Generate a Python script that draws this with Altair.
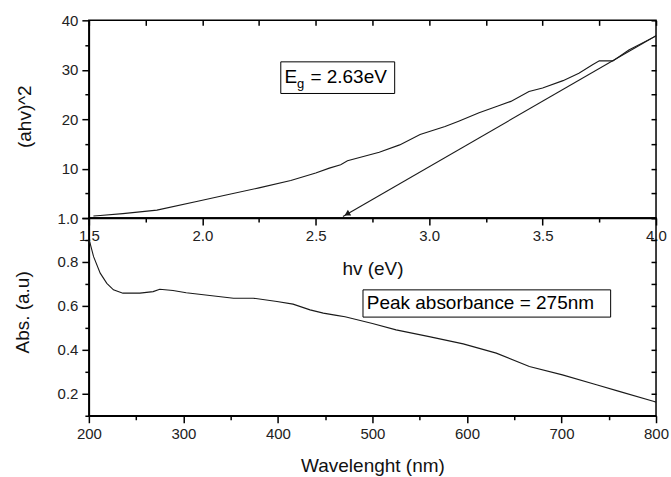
import altair as alt
import pandas as pd

# ---- data ----
hv = [1.52, 1.55, 1.65, 1.80, 1.99, 2.10, 2.25, 2.39, 2.50, 2.56, 2.61, 2.64, 2.78, 2.87,
      2.96, 3.07, 3.13, 3.22, 3.30, 3.36, 3.44, 3.50, 3.59, 3.66, 3.72, 3.75, 3.81, 3.88,
      3.99, 4.00]
ahv2 = [0.4, 0.5, 0.9, 1.6, 3.5, 4.6, 6.1, 7.6, 9.1, 10.1, 10.8, 11.6, 13.3, 14.8,
        16.9, 18.5, 19.6, 21.3, 22.6, 23.6, 25.6, 26.3, 27.8, 29.3, 31.0, 31.8, 31.8, 34.0,
        36.6, 36.9]

tangent_hv = [4.00, 2.62]
tangent_val = [36.9, 0.3]
arrow_hv = [2.638]
arrow_val = [0.8]

wavelength = [200, 201, 205, 212, 219, 226, 236, 254, 268, 275, 289, 303, 328, 353, 374,
              399, 416, 434, 448, 462, 471, 500, 525, 560, 596, 631, 666, 701, 737, 761,
              798, 800]
absorb = [0.90, 0.89, 0.824, 0.749, 0.703, 0.673, 0.658, 0.658, 0.665, 0.676, 0.670, 0.660,
          0.647, 0.635, 0.635, 0.620, 0.608, 0.582, 0.567, 0.557, 0.551, 0.520, 0.491,
          0.460, 0.427, 0.385, 0.324, 0.286, 0.241, 0.211, 0.165, 0.162]

top_x_major = [1.5, 2.0, 2.5, 3.0, 3.5, 4.0]
top_x_minor = [1.75, 2.25, 2.75, 3.25, 3.75]
top_x_all = [1.5, 1.75, 2.0, 2.25, 2.5, 2.75, 3.0, 3.25, 3.5, 3.75, 4.0]
top_y_major = [0, 10, 20, 30, 40]
top_y_minor = [5, 15, 25, 35]
top_y_all = [0, 5, 10, 15, 20, 25, 30, 35, 40]

bot_x_major = [200, 300, 400, 500, 600, 700, 800]
bot_x_minor = [250, 350, 450, 550, 650, 750]
bot_y_major = [0.2, 0.4, 0.6, 0.8, 1.0]
bot_y_minor = [0.1, 0.3, 0.5, 0.7, 0.9]
bot_y_all = [0.1, 0.2, 0.3, 0.4, 0.5, 0.6, 0.7, 0.8, 0.9, 1.0]

eg_box = {"x": [2.346], "x2": [2.848], "y": [31.6], "y2": [25.2]}
eg_text = {"x": [2.362], "y": [28.5]}
peak_box = {"x": [490], "x2": [752], "y": [0.673], "y2": [0.549]}
peak_text = {"x": [494], "y": [0.611], "label": ["Peak absorbance = 275nm"]}

FONT = "Liberation Sans"
W, H = 568, 198
LINE = "#1a1a1a"
LBL = dict(labelColor="#222222", labelFont=FONT, labelFontSize=15, grid=False,
           labelFlush=False, labelOverlap=False,
           domainColor="black", domainWidth=1.5, tickColor="black", tickWidth=1.5)
TTL = dict(titleFont=FONT, titleFontSize=19, titleFontWeight="normal", titleColor="#111111")

top_df = pd.DataFrame({"hv": hv, "v": ahv2})
tan_df = pd.DataFrame({"hv": tangent_hv, "v": tangent_val})
arr_df = pd.DataFrame({"hv": arrow_hv, "v": arrow_val})
bot_df = pd.DataFrame({"wl": wavelength, "a": absorb})

xs_top = alt.Scale(domain=[1.5, 4.0], nice=False, zero=False)
ys_top = alt.Scale(domain=[0, 40], nice=False, zero=False)
xs_bot = alt.Scale(domain=[200, 800], nice=False, zero=False)
ys_bot = alt.Scale(domain=[0.1, 1.0], nice=False, zero=False)

TICK_MAJ = 7
TICK_MIN = 4
TICK_IN = 5


def hidden_axis(orient, values, size, offset=0):
    return alt.Axis(orient=orient, values=values, tickSize=size, labels=False,
                    domain=False, title=None, grid=False, offset=offset,
                    tickColor="black", tickWidth=1.5)


def carrier(df, xf, yf, xs, ys, xaxis, yaxis):
    return alt.Chart(df).mark_line(opacity=0).encode(
        x=alt.X(xf, type="quantitative", scale=xs, axis=xaxis),
        y=alt.Y(yf, type="quantitative", scale=ys, axis=yaxis),
    )


# ---------------- top panel ----------------
top_main = alt.Chart(top_df).mark_line(color=LINE, strokeWidth=1.1).encode(
    x=alt.X("hv:Q", scale=xs_top, axis=alt.Axis(
        orient="bottom", values=top_x_major, format=".1f", tickSize=TICK_MAJ,
        labelPadding=4, title="hv (eV)", titleY=51, titleBaseline="middle",
        titleAlign="center", **LBL, **TTL)),
    y=alt.Y("v:Q", scale=ys_top, axis=alt.Axis(
        orient="left", values=top_y_major, format="d", tickSize=TICK_MAJ,
        labelPadding=4, labelExpr="datum.value == 0 ? '' : datum.label",
        title="(ahv)^2", titleX=-64, titleY=96, titleAngle=-90,
        titleAlign="center", titleBaseline="middle", **LBL, **TTL)),
)
top_minor = carrier(top_df, "hv", "v", xs_top, ys_top,
                    hidden_axis("bottom", top_x_minor, TICK_MIN),
                    hidden_axis("left", top_y_minor, TICK_MIN))
top_inner = carrier(top_df, "hv", "v", xs_top, ys_top,
                    hidden_axis("top", top_x_all, TICK_IN, offset=-TICK_IN),
                    hidden_axis("right", top_y_all, TICK_IN, offset=-TICK_IN))
tangent = alt.Chart(tan_df).mark_line(color=LINE, strokeWidth=1.1).encode(
    x=alt.X("hv:Q", scale=xs_top, axis=None),
    y=alt.Y("v:Q", scale=ys_top, axis=None),
)
arrow = alt.Chart(arr_df).mark_point(shape="triangle-up", filled=True, color=LINE,
                                     size=45, angle=240, opacity=1).encode(
    x=alt.X("hv:Q", scale=xs_top, axis=None),
    y=alt.Y("v:Q", scale=ys_top, axis=None),
)
eg_rect = alt.Chart(pd.DataFrame(eg_box)).mark_rect(
    fill="white", stroke="black", strokeWidth=1).encode(
    x=alt.X("x:Q", scale=xs_top, axis=None), x2="x2:Q",
    y=alt.Y("y:Q", scale=ys_top, axis=None), y2="y2:Q",
)
eg_df = pd.DataFrame(eg_text)
eg_E = alt.Chart(eg_df).mark_text(text="E", font=FONT, fontSize=19, align="left",
                                  baseline="middle", color="black").encode(
    x=alt.X("x:Q", scale=xs_top, axis=None), y=alt.Y("y:Q", scale=ys_top, axis=None))
eg_g = alt.Chart(eg_df).mark_text(text="g", font=FONT, fontSize=13, align="left",
                                  baseline="middle", color="black", dx=12.5, dy=7).encode(
    x=alt.X("x:Q", scale=xs_top, axis=None), y=alt.Y("y:Q", scale=ys_top, axis=None))
eg_rest = alt.Chart(eg_df).mark_text(text="= 2.63eV", font=FONT, fontSize=19,
                                     align="left", baseline="middle", color="black",
                                     dx=26).encode(
    x=alt.X("x:Q", scale=xs_top, axis=None), y=alt.Y("y:Q", scale=ys_top, axis=None))

top = alt.layer(top_main, top_minor, top_inner, tangent, arrow, eg_rect,
                eg_E, eg_g, eg_rest).resolve_axis(
    x="independent", y="independent").properties(width=W, height=H)

# ---------------- bottom panel ----------------
bot_main = alt.Chart(bot_df).mark_line(color=LINE, strokeWidth=1.1).encode(
    x=alt.X("wl:Q", scale=xs_bot, axis=alt.Axis(
        orient="bottom", values=bot_x_major, format="d", tickSize=TICK_MAJ,
        labelPadding=4, title="Wavelenght (nm)", titleY=50, titleBaseline="middle",
        titleAlign="center", **LBL, **TTL)),
    y=alt.Y("a:Q", scale=ys_bot, axis=alt.Axis(
        orient="left", values=bot_y_major, format=".1f", tickSize=TICK_MAJ,
        labelPadding=4, title="Abs. (a.u)", titleX=-66, titleY=94, titleAngle=-90,
        titleAlign="center", titleBaseline="middle", **LBL, **TTL)),
)
bot_minor = carrier(bot_df, "wl", "a", xs_bot, ys_bot,
                    hidden_axis("bottom", bot_x_minor, TICK_MIN),
                    hidden_axis("left", bot_y_minor, TICK_MIN))
bot_inner = carrier(bot_df, "wl", "a", xs_bot, ys_bot,
                    None,
                    hidden_axis("right", bot_y_all, TICK_IN, offset=-TICK_IN))
peak_rect = alt.Chart(pd.DataFrame(peak_box)).mark_rect(
    fill="white", stroke="black", strokeWidth=1).encode(
    x=alt.X("x:Q", scale=xs_bot, axis=None), x2="x2:Q",
    y=alt.Y("y:Q", scale=ys_bot, axis=None), y2="y2:Q",
)
peak_lbl = alt.Chart(pd.DataFrame(peak_text)).mark_text(
    font=FONT, fontSize=19, align="left", baseline="middle", color="black").encode(
    x=alt.X("x:Q", scale=xs_bot, axis=None), y=alt.Y("y:Q", scale=ys_bot, axis=None),
    text="label:N")

bottom = alt.layer(bot_main, bot_minor, bot_inner, peak_rect, peak_lbl).resolve_axis(
    x="independent", y="independent").properties(width=W, height=H)

chart = alt.vconcat(top, bottom, spacing=0, bounds="flush").properties(
    padding={"left": 13, "top": 12, "right": 1, "bottom": 5},
    background="white",
).configure_view(
    stroke="black", strokeWidth=1.5
).configure_axis(
    grid=False, domainColor="black", domainWidth=1.5, tickColor="black",
    tickWidth=1.5, labelColor="#222222", labelFont=FONT, labelFontSize=15,
    titleFont=FONT, titleFontSize=19, titleFontWeight="normal", titleColor="#111111",
)

chart.save("out.html", embed_options={"renderer": "svg", "actions": False})
